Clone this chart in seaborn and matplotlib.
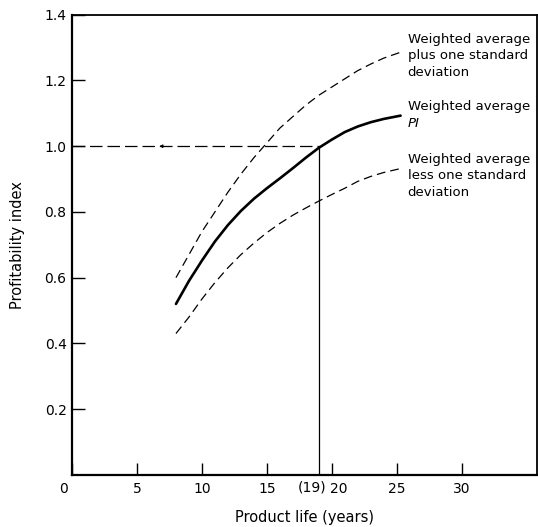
import matplotlib
matplotlib.use("Agg")
import matplotlib.pyplot as plt
import matplotlib.transforms as mtransforms
import seaborn as sns
import pandas as pd

# Profitability index versus product life
mean_years = [8.0, 9.0, 10.0, 11.0, 12.0, 13.0, 14.0, 15.0, 16.0, 17.0, 18.0,
              19.0, 20.0, 21.0, 22.0, 23.0, 24.0, 25.3]
mean_pi = [0.52, 0.59, 0.652, 0.71, 0.76, 0.803, 0.84, 0.872, 0.902, 0.933,
           0.965, 0.995, 1.02, 1.043, 1.06, 1.073, 1.083, 1.093]

upper_years = [8.0, 9.0, 10.0, 11.0, 12.0, 13.0, 14.0, 15.0, 16.0, 17.0, 18.0,
               19.0, 20.0, 21.0, 22.0, 23.0, 24.0, 25.3]
upper_pi = [0.60, 0.67, 0.74, 0.80, 0.86, 0.915, 0.965, 1.01, 1.055, 1.09,
            1.125, 1.155, 1.18, 1.205, 1.23, 1.25, 1.268, 1.286]

lower_years = [8.0, 9.0, 10.0, 11.0, 12.0, 13.0, 14.0, 15.0, 16.0, 17.0, 18.0,
               19.0, 20.0, 21.0, 22.0, 23.0, 24.0, 25.3]
lower_pi = [0.43, 0.48, 0.535, 0.585, 0.63, 0.67, 0.705, 0.737, 0.765, 0.79,
            0.812, 0.833, 0.853, 0.872, 0.893, 0.908, 0.92, 0.932]

breakeven_life = 19
breakeven_pi = 1.0

x_ticks = [0, 5, 10, 15, 20, 25, 30]
x_tick_labels = ["0", "5", "10", "15", "20", "25", "30"]
y_ticks = [0.2, 0.4, 0.6, 0.8, 1.0, 1.2, 1.4]
y_tick_labels = ["0.2", "0.4", "0.6", "0.8", "1.0", "1.2", "1.4"]

sns.set_theme(style="white")
plt.rcParams["font.family"] = ["DejaVu Sans"]

fig = plt.figure(figsize=(5.38, 5.27), dpi=100)
ax = fig.add_axes([0.134, 0.099, 0.864, 0.873])

mean_df = pd.DataFrame({"life": mean_years, "pi": mean_pi})
upper_df = pd.DataFrame({"life": upper_years, "pi": upper_pi})
lower_df = pd.DataFrame({"life": lower_years, "pi": lower_pi})

sns.lineplot(data=mean_df, x="life", y="pi", ax=ax, color="black", linewidth=1.9)
sns.lineplot(data=upper_df, x="life", y="pi", ax=ax, color="black", linewidth=0.9)
sns.lineplot(data=lower_df, x="life", y="pi", ax=ax, color="black", linewidth=0.9)
for line in ax.lines[1:3]:
    line.set_dashes([7, 4])

# Read-off guides for the break-even product life
ax.plot([0, breakeven_life], [breakeven_pi, breakeven_pi], color="black",
        linewidth=0.9, dashes=[10, 4])
ax.plot([breakeven_life, breakeven_life], [0, breakeven_pi], color="black",
        linewidth=0.9)
ax.annotate("", xy=(6.5, breakeven_pi), xytext=(7.3, breakeven_pi),
            arrowprops=dict(arrowstyle="-|>", color="black", lw=0.6,
                            mutation_scale=5))

ax.set_xlim(0, 35.8)
ax.set_ylim(0, 1.4)
ax.set_xticks(x_ticks)
ax.set_xticklabels(x_tick_labels)
ax.set_yticks(y_ticks)
ax.set_yticklabels(y_tick_labels)
ax.tick_params(axis="both", direction="in", length=9, width=1.0, color="black",
               labelsize=10, labelcolor="black", bottom=True, left=True,
               top=False, right=False)
ax.tick_params(axis="x", pad=5)
ax.tick_params(axis="y", pad=4)

# Nudge corner and crowded labels
for lbl in ax.get_xticklabels():
    if lbl.get_text() == "0":
        lbl.set_transform(lbl.get_transform() + mtransforms.ScaledTranslation(
            -0.09, 0, fig.dpi_scale_trans))
    if lbl.get_text() == "20":
        lbl.set_transform(lbl.get_transform() + mtransforms.ScaledTranslation(
            0.07, 0, fig.dpi_scale_trans))

ax.text(18.5, -0.016, "(19)", ha="center", va="top", fontsize=10,
        color="black")

ax.set_xlabel("Product life (years)", fontsize=10.5, color="black", labelpad=10)
ax.set_ylabel("Profitability index", fontsize=10.5, color="black", labelpad=14)

for side, spine in ax.spines.items():
    spine.set_color("black")
    spine.set_linewidth(1.6 if side in ("left", "bottom") else 1.3)
    spine.set_visible(True)

ax.text(25.85, 1.345, "Weighted average\nplus one standard\ndeviation",
        ha="left", va="top", fontsize=9.5, linespacing=1.35, color="black")
ax.text(25.85, 1.141, "Weighted average", ha="left", va="top", fontsize=9.5,
        color="black")
ax.text(25.85, 1.09, "PI", ha="left", va="top", fontsize=9.5, style="italic",
        color="black")
ax.text(25.85, 0.98, "Weighted average\nless one standard\ndeviation",
        ha="left", va="top", fontsize=9.5, linespacing=1.35, color="black")

fig.savefig("out.png", dpi=100, facecolor="white")
